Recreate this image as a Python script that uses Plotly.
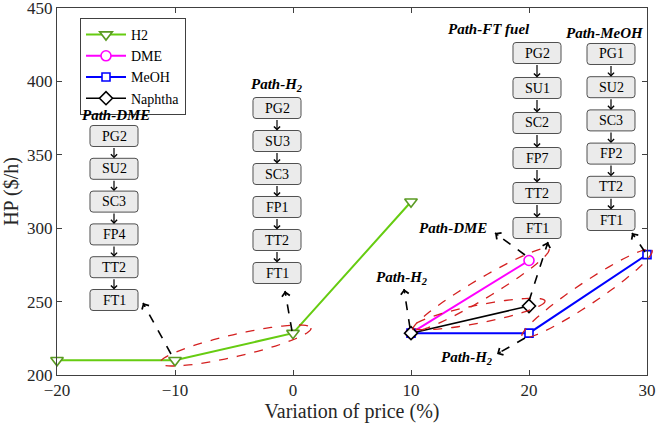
import numpy as np
import plotly.graph_objects as go

# values
h2_x = [-20, -10, 0, 10]
h2_y = [210, 210, 228.5, 318]
dme_x = [10, 20]
dme_y = [228.5, 278]
meoh_x = [10, 20, 30]
meoh_y = [228.5, 228.5, 282]
naph_x = [10, 20]
naph_y = [228.5, 247]

x_ticks = [-20, -10, 0, 10, 20, 30]
y_ticks = [200, 250, 300, 350, 400, 450]

# unit sequence of each path
path_dme = ['PG2', 'SU2', 'SC3', 'FP4', 'TT2', 'FT1']
path_h2 = ['PG2', 'SU3', 'SC3', 'FP1', 'TT2', 'FT1']
path_ft = ['PG2', 'SU1', 'SC2', 'FP7', 'TT2', 'FT1']
path_meoh = ['PG1', 'SU2', 'SC3', 'FP2', 'TT2', 'FT1']

FONT = 'Liberation Serif'
W, H = 658, 427
L, R, T, B = 57, 11, 8, 52
PW = W - L - R
PH = H - T - B


def px(x):
    return (x - L) / PW


def py(y):
    return (H - B - y) / PH


def pt(x, y):
    return '{:.5f},{:.5f}'.format(px(x), py(y))


def label(x, y, text, size):
    return dict(x=px(x), y=py(y), xref='paper', yref='paper', text=text, showarrow=False,
                xanchor='center', yanchor='middle',
                font=dict(family=FONT, size=size, color='black'))


def rounded_box(cx, cy, w=48, h=21, r=3):
    x0, x1, y0, y1 = cx - w / 2, cx + w / 2, cy - h / 2, cy + h / 2
    p = 'M{} L{} Q{} {} L{} Q{} {} L{} Q{} {} L{} Q{} {} Z'.format(
        pt(x0 + r, y0), pt(x1 - r, y0), pt(x1, y0), pt(x1, y0 + r),
        pt(x1, y1 - r), pt(x1, y1), pt(x1 - r, y1),
        pt(x0 + r, y1), pt(x0, y1), pt(x0, y1 - r),
        pt(x0, y0 + r), pt(x0, y0), pt(x0 + r, y0))
    return dict(type='path', path=p, xref='paper', yref='paper', layer='above',
                fillcolor='#ebebeb', line=dict(color='#505050', width=1))


def ellipse(p1, p2, b):
    cx, cy = (p1[0] + p2[0]) / 2, (p1[1] + p2[1]) / 2
    a = np.hypot(p2[0] - p1[0], p2[1] - p1[1]) / 2
    ang = np.arctan2(p2[1] - p1[1], p2[0] - p1[0])
    t = np.linspace(0, 2 * np.pi, 73)
    ex = cx + a * np.cos(t) * np.cos(ang) - b * np.sin(t) * np.sin(ang)
    ey = cy + a * np.cos(t) * np.sin(ang) + b * np.sin(t) * np.cos(ang)
    p = 'M' + ' L'.join(pt(x, y) for x, y in zip(ex, ey)) + ' Z'
    return dict(type='path', path=p, xref='paper', yref='paper', layer='above',
                line=dict(color='#d42020', width=1.3, dash='dash'))


def dashed_arrow(tail, head):
    dx, dy = tail[0] - head[0], tail[1] - head[1]
    n = np.hypot(dx, dy)
    line = dict(type='line', xref='paper', yref='paper', layer='above',
                x0=px(tail[0]), y0=py(tail[1]), x1=px(head[0]), y1=py(head[1]),
                line=dict(color='black', width=1.6, dash='dash'))
    tip = dict(x=px(head[0]), y=py(head[1]), xref='paper', yref='paper', text='',
               showarrow=True, arrowhead=4, arrowsize=1.1, arrowwidth=1.4, arrowcolor='black',
               ax=dx / n * 6, ay=dy / n * 6)
    return line, tip


fig = go.Figure()
fig.add_trace(go.Scatter(x=h2_x, y=h2_y, name='H2', mode='lines+markers', cliponaxis=False,
                         line=dict(color='#66cc11', width=2),
                         marker=dict(symbol='triangle-down', size=11, color='white',
                                     line=dict(color='#5a9a22', width=1.6))))
fig.add_trace(go.Scatter(x=dme_x, y=dme_y, name='DME', mode='lines+markers', cliponaxis=False,
                         line=dict(color='#ff00ff', width=2),
                         marker=dict(symbol='circle', size=10, color='white',
                                     line=dict(color='#ff00ff', width=1.6))))
fig.add_trace(go.Scatter(x=meoh_x, y=meoh_y, name='MeOH', mode='lines+markers', cliponaxis=False,
                         line=dict(color='#0000ff', width=2),
                         marker=dict(symbol='square', size=8, color='white',
                                     line=dict(color='#0000ff', width=1.6))))
fig.add_trace(go.Scatter(x=naph_x, y=naph_y, name='Naphtha', mode='lines+markers', cliponaxis=False,
                         line=dict(color='black', width=1.5),
                         marker=dict(symbol='diamond', size=10, color='white',
                                     line=dict(color='black', width=1.6))))

shapes = []
annotations = []

# flow charts: (title, title pos, column x, first box y, spacing, units)
columns = [
    ('Path-DME', (116, 115), 114, 136, 32.8, path_dme),
    ('Path-H<sub>2</sub>', (277, 85), 277, 108, 33, path_h2),
    ('Path-FT fuel', (489, 29), 537, 53, 35, path_ft),
    ('Path-MeOH', (605, 33), 611, 54, 33.2, path_meoh),
]
for title, tpos, cx, y0, step, units in columns:
    annotations.append(label(tpos[0], tpos[1], '<b><i>' + title + '</i></b>', 15))
    for i, u in enumerate(units):
        cy = y0 + i * step
        shapes.append(rounded_box(cx, cy))
        annotations.append(label(cx, cy, u, 14))
        if i > 0:
            top = cy - 10.5
            annotations.append(dict(x=px(cx), y=py(top), xref='paper', yref='paper', text='',
                                    showarrow=True, arrowhead=4, arrowsize=1, arrowwidth=1.2,
                                    arrowcolor='black', ax=0, ay=-(step - 21)))

# dashed red ellipses round the segments
shapes.append(ellipse((160, 363), (311, 328), 11))
shapes.append(ellipse((413, 330), (549, 249), 10))
shapes.append(ellipse((413, 327), (545, 301), 9))
shapes.append(ellipse((522, 337), (652, 250), 11))

# dashed pointer arrows
for tail, head in [((171, 354), (143, 303)), ((292, 331), (285, 291)),
                   ((525, 255), (495, 233)), ((529, 301), (548, 242)),
                   ((410, 328), (404, 289)), ((525, 338), (497, 354)),
                   ((645, 252), (632, 233))]:
    s, a = dashed_arrow(tail, head)
    shapes.append(s)
    annotations.append(a)

for text, pos in [('Path-H<sub>2</sub>', (402, 278)), ('Path-DME', (453, 228)),
                  ('Path-H<sub>2</sub>', (467, 358))]:
    annotations.append(label(pos[0], pos[1], '<b><i>' + text + '</i></b>', 15))

fig.update_layout(
    width=W, height=H, margin=dict(l=L, r=R, t=T, b=B, autoexpand=False),
    plot_bgcolor='white', paper_bgcolor='white',
    font=dict(family=FONT, size=17, color='#262626'),
    shapes=shapes, annotations=annotations,
    legend=dict(x=px(80), y=py(18), xanchor='left', yanchor='top',
                bgcolor='white', bordercolor='#404040', borderwidth=1,
                font=dict(family=FONT, size=14, color='black'), itemwidth=40,
                tracegroupgap=0),
)
fig.update_xaxes(range=[-20, 30], tickvals=x_ticks, title_text='Variation of price (%)',
                 title_standoff=3, showgrid=False, zeroline=False, showline=True,
                 linecolor='#404040', linewidth=1, mirror='ticks', ticks='inside',
                 ticklen=5, tickcolor='#404040', ticklabeloverflow='allow')
fig.update_yaxes(range=[200, 450], tickvals=y_ticks, title_text='HP ($/h)',
                 title_standoff=4, showgrid=False, zeroline=False, showline=True,
                 linecolor='#404040', linewidth=1, mirror='ticks', ticks='inside',
                 ticklen=5, tickcolor='#404040', ticklabeloverflow='allow')

# the page body has a default 8px margin; drop it so the figure sits at the window corner
fig.write_html("out.html", config={'displayModeBar': False},
               post_script="document.body.style.margin='0';document.body.style.overflow='hidden';")
